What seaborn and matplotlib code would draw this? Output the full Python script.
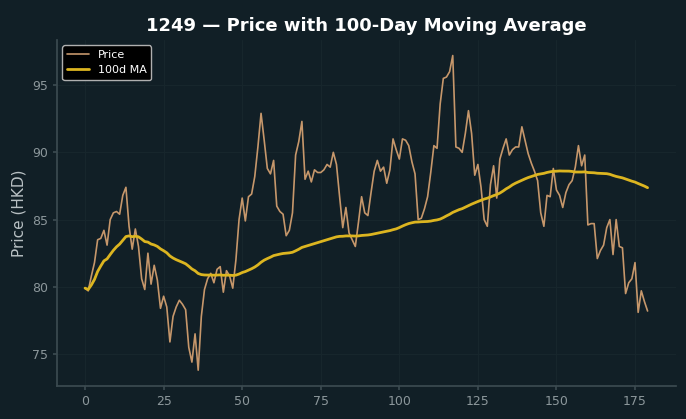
import numpy as np
import pandas as pd
import seaborn as sns
import matplotlib.pyplot as plt

# daily closing prices (day 0..179)
price = [
    79.9, 79.7, 80.8, 81.8, 83.5, 83.6, 84.2, 83.1, 85.0, 85.5,
    85.6, 85.4, 86.8, 87.4, 84.5, 82.8, 84.3, 83.0, 80.6, 79.8,
    82.5, 80.2, 81.6, 80.5, 78.4, 79.3, 78.5, 75.9, 77.8, 78.5,
    79.0, 78.7, 78.3, 75.5, 74.4, 76.5, 73.8, 77.8, 79.8, 80.6,
    81.0, 80.3, 81.3, 81.5, 79.6, 81.2, 80.8, 79.9, 82.0, 85.0,
    86.6, 84.9, 86.7, 86.9, 88.2, 90.4, 92.9, 90.9, 88.8, 88.4,
    89.4, 86.0, 85.6, 85.4, 83.8, 84.2, 85.5, 89.8, 90.8, 92.3,
    88.0, 88.6, 87.8, 88.7, 88.5, 88.5, 88.7, 89.1, 88.9, 90.0,
    89.1, 86.7, 84.4, 85.9, 84.0, 83.5, 83.0, 84.8, 86.7, 85.5,
    85.3, 87.0, 88.6, 89.4, 88.6, 88.9, 87.7, 88.7, 91.0, 90.2,
    89.5, 91.0, 90.9, 90.5, 89.3, 88.4, 85.0, 85.1, 85.8, 86.7,
    88.5, 90.5, 90.3, 93.6, 95.5, 95.6, 96.0, 97.2, 90.4, 90.3,
    90.0, 91.4, 93.1, 91.4, 88.3, 89.1, 87.4, 85.0, 84.5, 87.6,
    89.0, 86.6, 89.5, 90.3, 91.0, 89.8, 90.2, 90.4, 90.4, 91.9,
    90.9, 89.9, 89.2, 88.6, 87.9, 85.5, 84.5, 86.8, 86.7, 88.8,
    87.2, 86.8, 85.9, 87.0, 87.6, 87.9, 88.9, 90.5, 89.0, 89.8,
    84.6, 84.7, 84.7, 82.1, 82.7, 83.1, 84.4, 85.0, 82.4, 85.0,
    83.0, 82.9, 79.5, 80.3, 80.6, 81.8, 78.1, 79.7, 78.9, 78.2,
]
day = list(range(len(price)))
ma_window = 100

df = pd.DataFrame({"day": day, "price": price})
df["ma"] = df["price"].rolling(ma_window, min_periods=1).mean()

bg = "#111f26"
sns.set_theme(style="darkgrid", rc={
    "axes.facecolor": bg,
    "figure.facecolor": bg,
    "grid.color": "#17262c",
    "grid.linewidth": 0.8,
    "axes.edgecolor": "#3b4a50",
    "xtick.color": "#8c979b",
    "ytick.color": "#8c979b",
    "axes.labelcolor": "#b9c1c4",
    "text.color": "white",
})
plt.rcParams["font.family"] = ["DejaVu Sans"]

fig, ax = plt.subplots(figsize=(6.86, 4.19), dpi=100)
fig.subplots_adjust(left=0.083, right=0.985, top=0.905, bottom=0.079)

sns.lineplot(data=df, x="day", y="price", ax=ax, color="#c6976b", linewidth=1.2, label="Price")
sns.lineplot(data=df, x="day", y="ma", ax=ax, color="#dcb520", linewidth=2.0, label="100d MA")

ax.set_title("1249 — Price with 100-Day Moving Average", fontsize=13, fontweight="bold", color="white")
ax.set_xlabel("")
ax.set_ylabel("Price (HKD)", fontsize=11)
ax.tick_params(axis="both", labelsize=9, length=3, color="#3b4a50", left=True, bottom=True)
for side in ["top", "right"]:
    ax.spines[side].set_visible(False)
for side in ["left", "bottom"]:
    ax.spines[side].set_visible(True)
    ax.spines[side].set_color("#3b4a50")

leg = ax.legend(loc="upper left", fontsize=8, facecolor="black", edgecolor="#b0b0b0", framealpha=1.0)
for t in leg.get_texts():
    t.set_color("white")

fig.savefig("out.png", dpi=100, facecolor=bg)
